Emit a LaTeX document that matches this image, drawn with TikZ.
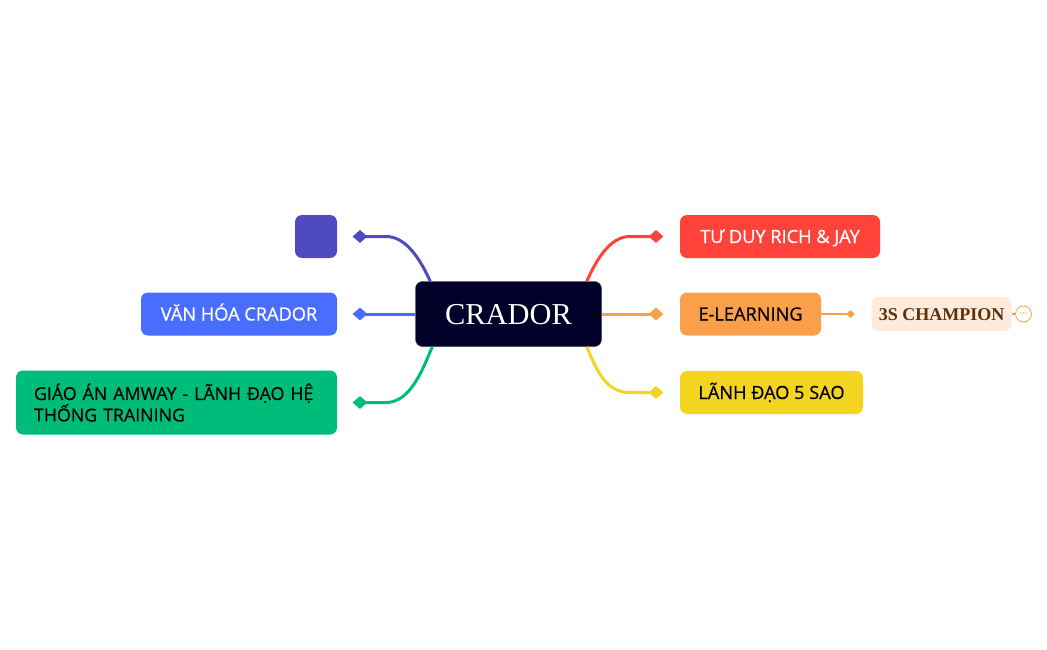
\documentclass[tikz,border=0pt]{standalone}
\usepackage{fontspec}
\usetikzlibrary{shapes,arrows,positioning,calc}
\setmainfont[FakeBold=0.6]{Open Sans}
\newfontfamily\rootfont{Liberation Serif}
\definecolor{rootcol}{HTML}{000029}
\definecolor{purplecol}{HTML}{4F4AC0}
\definecolor{bluecol}{HTML}{4A6CFF}
\definecolor{greencol}{HTML}{00BC7B}
\definecolor{redcol}{HTML}{FF433A}
\definecolor{orangecol}{HTML}{FAA04B}
\definecolor{yellowcol}{HTML}{F3D41E}
\definecolor{creamcol}{HTML}{FEEBDB}
\definecolor{browncol}{HTML}{5C300A}
\tikzset{
root/.style = {fill=rootcol, draw=rootcol!70!white, line width=0.5pt, rectangle, rounded corners=7pt, minimum width=186pt, minimum height=65pt, text=white, text height=20pt, text depth=0pt, font=\rootfont\fontsize{30.4}{36}\selectfont},
block/.style = {rectangle, rounded corners=7pt, minimum height=43pt, align=center, inner xsep=0pt, text height=13pt, text depth=0pt, font=\fontsize{18.2}{20}\selectfont},
tip/.style = {diamond, inner sep=0pt, minimum width=15pt, minimum height=13pt},
smalltip/.style = {diamond, inner sep=0pt, minimum width=9pt, minimum height=8pt, fill=orangecol},
branch/.style = {line width=3pt},
more/.style = {draw=orangecol, fill=white, circle, line width=0.8pt, minimum size=16pt, inner sep=0pt, text=orangecol!70!white, font=\fontsize{9}{9}\selectfont},
}

\begin{document}
\begin{tikzpicture}[x=1pt,y=-1pt,node distance=100pt]
      \useasboundingbox (0,0) rectangle (1047,650);
      \node [root] (root) at (508.5,314) {CRADOR};
      % left side
      \node [tip,fill=purplecol] (tipa) at (360,236.5) {};
      \node [tip,fill=bluecol] (tipb) at (360,314) {};
      \node [tip,fill=greencol] (tipc) at (360,402.5) {};
      \node [block,fill=purplecol,minimum width=42pt,left of=tipa,node distance=44pt] (empty) {};
      \node [block,fill=bluecol,text=white,minimum width=196pt,left of=tipb,node distance=121pt] (culture) {VĂN HÓA CRADOR};
      \node [block,fill=greencol,minimum width=321pt,minimum height=64pt,left of=tipc,node distance=183.5pt,align=left,text width=285pt,inner xsep=18pt,text height=,text depth=,font=\fontsize{17.8}{20}\selectfont] (lesson) {GIÁO ÁN AMWAY - LÃNH ĐẠO HỆ\\THỐNG TRAINING};
      % right side
      \node [tip,fill=redcol] (tipd) at (656,236.5) {};
      \node [tip,fill=orangecol] (tipe) at (656,314) {};
      \node [tip,fill=yellowcol] (tipf) at (656,392.5) {};
      \node [block,fill=redcol,text=white,minimum width=200pt,right of=tipd,node distance=124pt] (rich) {TƯ DUY RICH \& JAY};
      \node [block,fill=orangecol,minimum width=141pt,right of=tipe,node distance=94.5pt] (elearn) {E-LEARNING};
      \node [block,fill=yellowcol,minimum width=183pt,right of=tipf,node distance=115.5pt] (leader) {LÃNH ĐẠO 5 SAO};
      \node [smalltip,right of=elearn,node distance=100pt] (tipg) {};
      \node [block,fill=creamcol,text=browncol,minimum width=140pt,minimum height=34pt,right of=tipg,node distance=91pt,text height=12pt,font=\rootfont\bfseries\fontsize{18}{21}\selectfont] (champ) {3S CHAMPION};
      \node [more,right of=champ,node distance=82pt] (dots) {···};
      \coordinate (rootnw) at ($(root.north west)+(15,0)$);
      \coordinate (rootsw) at ($(root.south west)+(17,0)$);
      \coordinate (rootne) at ($(root.north east)+(-15,0)$);
      \coordinate (rootse) at ($(root.south east)+(-15,0)$);
      \draw [branch,purplecol] (tipa.center) -- ++(26,0) .. controls +(20,0) and +(-10,-22) .. (rootnw);
      \draw [branch,bluecol] (tipb.center) -- (root);
      \draw [branch,greencol] (tipc.center) -- ++(26,0) .. controls +(24,0) and +(-10,24) .. (rootsw);
      \draw [branch,redcol] (tipd.center) -- ++(-26,0) .. controls +(-20,0) and +(10,-22) .. (rootne);
      \draw [branch,orangecol] (tipe.center) -- (root);
      \draw [branch,yellowcol] (tipf.center) -- ++(-26,0) .. controls +(-24,0) and +(10,24) .. (rootse);
      \draw [orangecol,line width=1.5pt] (elearn) -- (tipg.center);
      \draw [orangecol,line width=1.5pt] (champ) -- (dots);
\end{tikzpicture}
\end{document}
